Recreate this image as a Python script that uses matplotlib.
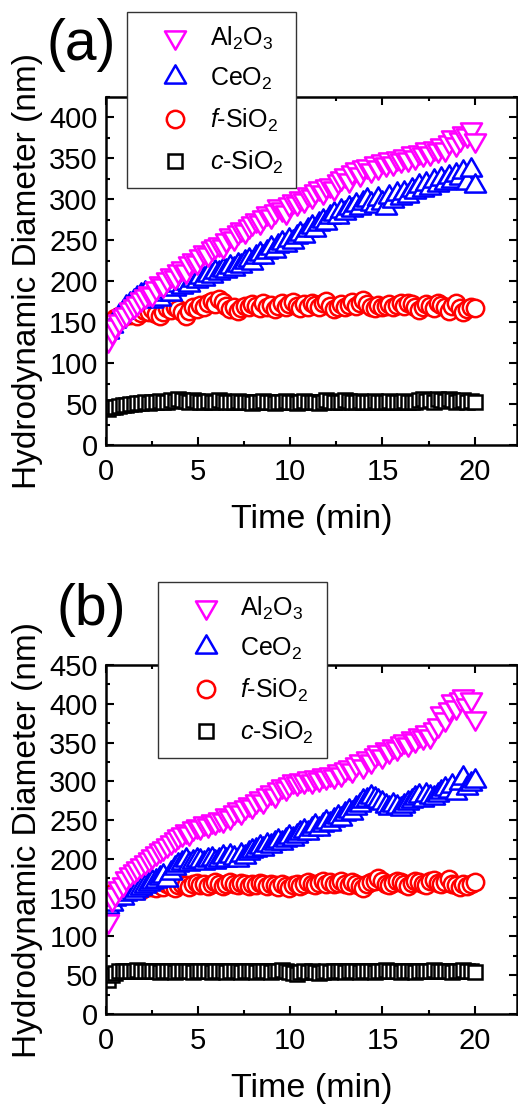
import numpy as np
import matplotlib
matplotlib.use("Agg")
import matplotlib.pyplot as plt
from matplotlib.path import Path
from matplotlib.ticker import MultipleLocator

plt.rcParams['font.family'] = ['Liberation Sans', 'DejaVu Sans']
plt.rcParams['mathtext.fontset'] = 'custom'
plt.rcParams['mathtext.rm'] = 'Liberation Sans'
plt.rcParams['mathtext.it'] = 'Liberation Sans:italic'
plt.rcParams['mathtext.default'] = 'regular'

# time axis, one reading every ~12 s
time_min = np.linspace(0.1, 20.0, 100)

labels = ['Al$_2$O$_3$', 'CeO$_2$', r'$\mathit{f}$-SiO$_2$', r'$\mathit{c}$-SiO$_2$']

# ---- panel (a)
a_al2o3 = [128, 138, 145, 152, 158, 160, 166, 170, 174, 178,
           182, 186, 184, 192, 198, 195, 203, 208, 205, 212,
           216, 213, 222, 226, 224, 231, 236, 233, 240, 243,
           246, 243, 250, 256, 253, 260, 264, 261, 268, 271,
           275, 272, 279, 283, 280, 286, 292, 288, 285, 294,
           298, 296, 302, 299, 307, 304, 310, 314, 309, 316,
           318, 314, 322, 326, 330, 324, 333, 337, 331, 339,
           341, 336, 344, 340, 347, 343, 349, 345, 351, 348,
           353, 349, 356, 352, 358, 355, 361, 357, 363, 360,
           366, 362, 370, 376, 368, 374, 381, 378, 386, 372]
a_ceo2 = [138, 145, 152, 158, 163, 168, 172, 176, 180, 183,
          186, 180, 176, 182, 178, 185, 188, 184, 191, 195,
          193, 198, 196, 202, 200, 205, 203, 208, 206, 211,
          210, 214, 212, 217, 215, 220, 218, 223, 226, 222,
          229, 233, 230, 236, 240, 237, 243, 247, 244, 250,
          248, 254, 258, 255, 262, 266, 263, 270, 274, 271,
          278, 282, 279, 286, 283, 290, 287, 293, 289, 296,
          299, 294, 292, 300, 296, 290, 303, 298, 306, 302,
          308, 304, 312, 309, 316, 311, 319, 314, 322, 318,
          325, 320, 327, 323, 330, 326, 333, 320, 336, 316]
a_fsio2 = [148, 152, 155, 158, 156, 160, 159, 162, 158, 161,
           164, 162, 166, 160, 158, 163, 167, 165, 169, 166,
           162, 158, 164, 168, 166, 171, 169, 174, 176, 172,
           178, 175, 170, 166, 168, 164, 167, 170, 168, 172,
           170, 167, 173, 169, 171, 166, 170, 174, 168, 172,
           175, 170, 167, 172, 169, 174, 171, 168, 173, 176,
           170, 166, 169, 172, 168, 171, 175, 170, 173, 177,
           172, 169, 167, 171, 168, 170, 172, 169, 171, 173,
           170, 174, 172, 168, 165, 169, 172, 170, 167, 174,
           171, 168, 164, 170, 173, 167, 162, 166, 169, 167]
a_csio2 = [44, 46, 47, 48, 49, 49, 50, 50, 51, 51,
           52, 51, 53, 52, 54, 53, 52, 55, 54, 56,
           55, 54, 53, 55, 54, 53, 52, 54, 53, 52,
           55, 54, 53, 52, 53, 54, 52, 53, 52, 51,
           53, 52, 54, 53, 52, 51, 53, 52, 54, 53,
           52, 51, 53, 54, 52, 53, 52, 51, 53, 55,
           54, 53, 52, 53, 55, 54, 53, 52, 54, 53,
           52, 53, 54, 53, 52, 53, 54, 53, 52, 53,
           54, 53, 52, 53, 55, 56, 54, 55, 53, 56,
           55, 54, 56, 55, 53, 54, 55, 53, 54, 52]

# ---- panel (b)
b_al2o3 = [120, 148, 155, 162, 168, 175, 180, 184, 188, 192,
           196, 200, 204, 207, 211, 214, 218, 222, 226, 229,
           232, 236, 234, 240, 243, 241, 246, 244, 249, 247,
           252, 250, 256, 254, 260, 264, 261, 267, 271, 268,
           274, 278, 275, 282, 286, 283, 290, 294, 291, 297,
           300, 298, 302, 300, 304, 301, 306, 303, 308, 305,
           310, 307, 313, 310, 316, 319, 315, 322, 326, 320,
           330, 326, 334, 338, 333, 342, 339, 346, 343, 349,
           352, 348, 356, 353, 360, 357, 364, 358, 368, 372,
           388, 380, 393, 404, 396, 406, 410, 398, 406, 382]
b_ceo2 = [138, 142, 148, 152, 150, 155, 158, 156, 160, 163,
          165, 168, 170, 172, 175, 178, 173, 182, 188, 192,
          195, 198, 194, 196, 199, 197, 195, 198, 200, 196,
          199, 202, 198, 204, 201, 199, 205, 203, 207, 210,
          212, 215, 213, 218, 216, 220, 223, 220, 225, 228,
          226, 230, 233, 236, 234, 239, 242, 238, 244, 247,
          245, 250, 254, 252, 258, 262, 259, 266, 270, 274,
          276, 280, 277, 275, 272, 268, 265, 270, 267, 264,
          268, 272, 275, 278, 281, 276, 283, 280, 278, 282,
          286, 290, 288, 294, 285, 298, 304, 292, 296, 300]
b_fsio2 = [148, 155, 158, 160, 162, 161, 163, 165, 162, 160,
           163, 165, 164, 162, 166, 164, 167, 165, 163, 166,
           168, 166, 164, 167, 169, 166, 168, 165, 167, 170,
           168, 165, 167, 170, 168, 166, 169, 167, 165, 168,
           166, 169, 167, 165, 168, 166, 164, 167, 165, 163,
           166, 168, 165, 167, 170, 168, 166, 169, 171, 168,
           170, 167, 169, 171, 168, 166, 170, 168, 165, 163,
           167, 170, 172, 175, 171, 168, 166, 169, 172, 170,
           167, 165, 169, 172, 170, 168, 166, 171, 173, 169,
           167, 170, 174, 168, 166, 164, 167, 165, 168, 170]
b_csio2 = [44, 50, 53, 55, 56, 56, 55, 56, 57, 56,
           55, 56, 55, 56, 54, 55, 56, 55, 54, 56,
           55, 56, 55, 54, 56, 55, 56, 55, 54, 55,
           56, 55, 54, 55, 56, 55, 54, 55, 56, 55,
           54, 55, 56, 55, 54, 55, 56, 57, 55, 54,
           53, 52, 54, 55, 54, 55, 54, 53, 54, 55,
           54, 55, 56, 55, 54, 55, 56, 55, 54, 55,
           56, 55, 54, 55, 56, 57, 55, 56, 55, 54,
           55, 56, 55, 54, 56, 55, 56, 55, 57, 56,
           55, 56, 55, 54, 55, 56, 57, 55, 56, 54]

# equilateral triangles like Origin's
tri_up = Path([(-1, -0.577), (1, -0.577), (0, 1.155), (-1, -0.577)], closed=True)
tri_dn = Path([(-1, 0.577), (1, 0.577), (0, -1.155), (-1, 0.577)], closed=True)

styles = [
    dict(marker=tri_dn, color='#FF00FF', ms=17.5),
    dict(marker=tri_up, color='#0000FF', ms=17.5),
    dict(marker='o', color='#FF0000', ms=12.5),
    dict(marker='s', color='black', ms=9.5),
]


def draw_panel(ax, series, ymax, ystep, tag, tag_xy, leg_xy):
    handles = []
    # draw back to front: c-SiO2, f-SiO2, CeO2, Al2O3
    for i in [3, 2, 1, 0]:
        st = styles[i]
        h, = ax.plot(time_min, series[i], linestyle='none', marker=st['marker'],
                     markersize=st['ms'], markerfacecolor='white',
                     markeredgecolor=st['color'], markeredgewidth=1.8,
                     label=labels[i])
        handles.append(h)
    handles = handles[::-1]

    ax.set_xlim(0, 22.3)
    ax.set_ylim(0, ymax)
    ax.xaxis.set_major_locator(MultipleLocator(5))
    ax.xaxis.set_minor_locator(MultipleLocator(2.5))
    ax.yaxis.set_major_locator(MultipleLocator(ystep))
    ax.yaxis.set_minor_locator(MultipleLocator(ystep / 2))
    ax.tick_params(which='both', direction='in', top=True, right=True,
                   width=1.5, labelsize=21)
    ax.tick_params(which='major', length=5.5)
    ax.tick_params(which='minor', length=3)
    ax.tick_params(axis='x', which='major', pad=9.5)
    ax.tick_params(axis='y', which='major', pad=6)
    for sp in ax.spines.values():
        sp.set_linewidth(1.8)

    ax.set_xlabel('Time (min)', fontsize=24.5, labelpad=13)
    ax.set_ylabel('Hydrodynamic Diameter (nm)', fontsize=24, labelpad=4)

    fig.text(tag_xy[0] / 518, 1 - tag_xy[1] / 1104, tag, fontsize=41,
             ha='center', va='center')

    leg = ax.legend(handles=handles, loc='upper left',
                    bbox_to_anchor=(leg_xy[0] / 518, 1 - leg_xy[1] / 1104),
                    bbox_transform=fig.transFigure, borderaxespad=0,
                    fontsize=18, handlelength=2.8, handletextpad=0.0,
                    borderpad=0.5, labelspacing=0.58, fancybox=False,
                    framealpha=1, edgecolor='#333333')
    leg.get_frame().set_linewidth(1.0)


fig = plt.figure(figsize=(5.18, 11.04), dpi=100)
ax_a = fig.add_axes([106 / 518, 1 - 445 / 1104, 411 / 518, 348 / 1104])
ax_b = fig.add_axes([106 / 518, 1 - 1014 / 1104, 411 / 518, 349 / 1104])

draw_panel(ax_a, [a_al2o3, a_ceo2, a_fsio2, a_csio2], 425, 50, '(a)', (81, 45), (127, 12))
draw_panel(ax_b, [b_al2o3, b_ceo2, b_fsio2, b_csio2], 450, 50, '(b)', (91, 610), (158, 582))

fig.savefig('out.png', dpi=100)
